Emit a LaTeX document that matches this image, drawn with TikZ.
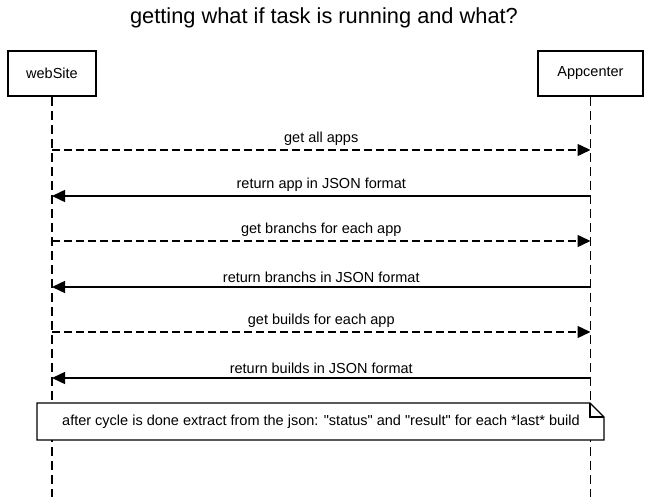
\documentclass[tikz,border=0pt]{standalone}
\usepackage{fontspec}
\setmainfont{Liberation Sans}[Ligatures=TeXOff]
\usetikzlibrary{arrows.meta}

\begin{document}
\begin{tikzpicture}[x=1pt,y=-1pt,font=\fontsize{14.5}{17}\selectfont,
  actor box/.style={draw,line width=2.8pt,minimum height=45pt,inner sep=0pt},
  life line/.style={draw,line width=1.6pt,dash pattern=on 9pt off 5pt},
  call msg/.style={draw,line width=1.4pt,dash pattern=on 8pt off 4pt,-{Triangle[length=13pt,width=12pt]}},
  reply msg/.style={draw,line width=1.4pt,-{Triangle[length=13pt,width=12pt]}}]
\useasboundingbox (0,0) rectangle (649,497);

% title
\node (title) at (324,18) {\fontsize{21.8}{25}\selectfont getting what if task is running and what?};

% participants
\node[actor box,minimum width=88pt] (web) at (52,73.5) {webSite};
\node[actor box,minimum width=105pt] (app) at (590.5,73.5) {Appcenter};

\coordinate (webend) at (52,497);
\coordinate (append) at (590.5,497);
\draw[life line] (web.south) -- (webend);
\draw[life line] (app.south) -- (append);

% messages
\coordinate (w1) at (52,150);  \coordinate (a1) at (590.5,150);
\coordinate (w2) at (52,196);  \coordinate (a2) at (590.5,196);
\coordinate (w3) at (52,241);  \coordinate (a3) at (590.5,241);
\coordinate (w4) at (52,287);  \coordinate (a4) at (590.5,287);
\coordinate (w5) at (52,332);  \coordinate (a5) at (590.5,332);
\coordinate (w6) at (52,378);  \coordinate (a6) at (590.5,378);

\draw[call msg] (w1) -- node[above=0.5pt] {get all apps} (a1);
\draw[reply msg] (a2) -- node[above=0.5pt] {return app in JSON format} (w2);
\draw[call msg] (w3) -- node[above=0.5pt] {get branchs for each app} (a3);
\draw[reply msg] (a4) -- node[above=0.5pt] {return branchs in JSON format} (w4);
\draw[call msg] (w5) -- node[above=0.5pt] {get builds for each app} (a5);
\draw[reply msg] (a6) -- node[above=0.5pt] {return builds in JSON format} (w6);

% note
\filldraw[draw=black,fill=white,line width=1.4pt] (37,403) -- (590,403) -- (604,417) -- (604,440) -- (37,440) -- cycle;
\draw[line width=1.4pt] (590,403) -- (590,417) -- (604,417);
\node (note) at (321,421.5) {after cycle is done extract from the json: "status" and "result" for each *last* build};

\end{tikzpicture}
\end{document}
